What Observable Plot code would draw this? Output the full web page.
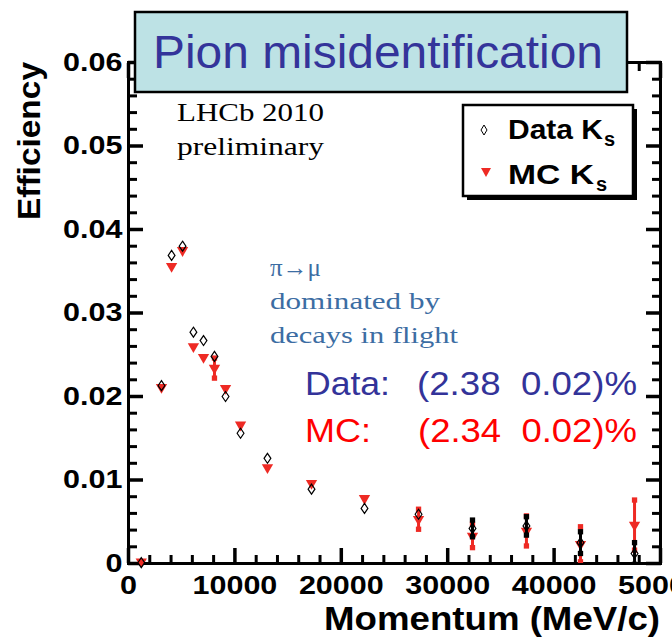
<!DOCTYPE html>
<html><head><meta charset="utf-8">
<script src="https://cdn.jsdelivr.net/npm/d3@7"></script>
<script src="https://cdn.jsdelivr.net/npm/@observablehq/plot@0.6"></script>
<style>
body{margin:0;background:#fff;}
#wrap{position:relative;width:672px;height:642px;overflow:hidden;}
#wrap > svg{position:absolute;left:0;top:0;}
</style></head><body><div id="wrap"></div>
<script>
// ---- data ----
const momentum = [1200, 3100, 4050, 5080, 6100, 7050, 8080, 9120, 10530, 13060, 17200, 22180, 27260, 32330, 37400, 42480, 47560];
const dataEff  = [0.0001, 0.0213, 0.0369, 0.0380, 0.0277, 0.0267, 0.0248, 0.0200, 0.0156, 0.0126, 0.0089, 0.0066, 0.0059, 0.0042, 0.0045, 0.0025, 0.0012];
const dataErr  = [0, 0.0002, 0.0003, 0.0003, 0.0003, 0.0003, 0.0003, 0.0003, 0.0003, 0.0003, 0.0003, 0.0004, 0.0005, 0.0010, 0.0011, 0.0013, 0.0013];
const mcEff    = [0.0002, 0.0211, 0.0356, 0.0375, 0.0260, 0.0247, 0.0234, 0.0210, 0.0166, 0.0115, 0.0096, 0.0078, 0.0053, 0.0033, 0.0039, 0.0023, 0.0046];
const mcErr    = [0.0002, 0.0003, 0.0004, 0.0004, 0.0004, 0.0005, 0.0012, 0.0006, 0.0005, 0.0005, 0.0004, 0.0007, 0.0012, 0.0014, 0.0018, 0.0021, 0.0030];

const yTicks = [0, 0.01, 0.02, 0.03, 0.04, 0.05, 0.06];
const yTickLabels = ["0", "0.01", "0.02", "0.03", "0.04", "0.05", "0.06"];
const xTicks = [0, 10000, 20000, 30000, 40000, 50000];
const xTickLabels = ["0", "10000", "20000", "30000", "40000", "50000"];

const titleText = "Pion misidentification";
const xLabel = "Momentum (MeV/c)";
const yLabel = "Efficiency";
const legendLabels = ["Data K", "MC K"];
const noteLHCb = ["LHCb 2010", "preliminary"];
const noteDecay = ["\u03c0\u2192\u03bc", "dominated by", "decays in flight"];
const resultLabels = ["Data:", "MC:"];
const resultValues = ["(2.38  0.02)%", "(2.34  0.02)%"];

// ---- build rows ----
const data = momentum.map((m, i) => ({m, e: dataEff[i], err: dataErr[i]})).filter(d => !isNaN(d.e));
const mc = momentum.map((m, i) => ({m, e: mcEff[i], err: mcErr[i]}));
const bigData = data.filter(d => d.err >= 0.0008);
const bigMc = mc.filter(d => d.err >= 0.0008);

const yMinor = d3.range(0, 0.0601, 0.002).filter(v => Math.abs(v * 100 - Math.round(v * 100)) > 1e-6);
const xMinor = d3.range(0, 50001, 2000).filter(v => v % 10000 !== 0);

const RED = "#ee2a24";
const tallDiamond = {
  draw(ctx, size) {
    const r = Math.sqrt(size / Math.PI);
    ctx.moveTo(0, -r * 1.25); ctx.lineTo(r * 0.85, 0); ctx.lineTo(0, r * 1.25); ctx.lineTo(-r * 0.85, 0); ctx.closePath();
  }
};
const fmtY = d => yTickLabels[yTicks.indexOf(d)];
const fmtX = d => xTickLabels[xTicks.indexOf(d)];
const blank = () => "";

const chart = Plot.plot({
  width: 672, height: 642,
  marginLeft: 128, marginRight: 12, marginTop: 62, marginBottom: 79,
  x: {domain: [0, 50000]},
  y: {domain: [0, 0.06]},
  style: {fontFamily: "'Liberation Sans', Arial, sans-serif", background: "transparent", overflow: "visible", color: "black"},
  marks: [
    // ticks (inward, ROOT style)
    Plot.axisY(yTicks, {anchor: "left", tickSize: -15, tickFormat: blank, strokeWidth: 3.5, label: null}),
    Plot.axisY(yMinor, {anchor: "left", tickSize: -9, tickFormat: blank, strokeWidth: 3, label: null}),
    Plot.axisY(yTicks, {anchor: "right", tickSize: -15, tickFormat: blank, strokeWidth: 3.5, label: null}),
    Plot.axisY(yMinor, {anchor: "right", tickSize: -9, tickFormat: blank, strokeWidth: 3, label: null}),
    Plot.axisX(xTicks, {anchor: "bottom", tickSize: -15, tickFormat: blank, strokeWidth: 3.5, label: null}),
    Plot.axisX(xMinor, {anchor: "bottom", tickSize: -8, tickFormat: blank, strokeWidth: 3, label: null}),
    Plot.axisX(xTicks, {anchor: "top", tickSize: -15, tickFormat: blank, strokeWidth: 3.5, label: null}),
    Plot.axisX(xMinor, {anchor: "top", tickSize: -8, tickFormat: blank, strokeWidth: 3, label: null}),
    // tick labels
    Plot.axisY(yTicks, {anchor: "left", tickSize: 0, tickPadding: 6, tickFormat: fmtY, fontSize: 25, fontWeight: "bold", label: null}),
    Plot.axisX(xTicks, {anchor: "bottom", tickSize: 0, tickPadding: 13, tickFormat: fmtX, fontSize: 25, fontWeight: "bold", label: null}),
    Plot.frame({stroke: "black", strokeWidth: 3}),
    // MC
    Plot.ruleX(bigMc, {x: "m", y1: d => d.e - d.err, y2: d => d.e + d.err, stroke: RED, strokeWidth: 3, clip: true}),
    Plot.dot(bigMc, {x: "m", y: d => d.e - d.err, symbol: "square", r: 3, fill: RED, clip: true}),
    Plot.dot(bigMc, {x: "m", y: d => d.e + d.err, symbol: "square", r: 3, fill: RED, clip: true}),
    Plot.dot(mc, {x: "m", y: "e", symbol: "triangle", r: 4.2, fill: RED, rotate: 180}),
    // Data
    Plot.ruleX(bigData, {x: "m", y1: d => d.e - d.err, y2: d => d.e + d.err, stroke: "black", strokeWidth: 3, clip: true}),
    Plot.dot(bigData, {x: "m", y: d => d.e - d.err, symbol: "square", r: 3, fill: "black", clip: true}),
    Plot.dot(bigData, {x: "m", y: d => d.e + d.err, symbol: "square", r: 3, fill: "black", clip: true}),
    Plot.dot(data, {x: "m", y: "e", symbol: tallDiamond, r: 4, stroke: "black", strokeWidth: 1.2, fill: "none"})
  ]
});
document.getElementById("wrap").appendChild(chart);
// widen the tick labels (the reference is horizontally stretched)
chart.querySelectorAll('g[aria-label="y-axis tick label"] text, g[aria-label="x-axis tick label"] text').forEach(t => {
  const w = t.getComputedTextLength();
  if (w > 0) { t.setAttribute("textLength", (w * 1.22).toFixed(1)); t.setAttribute("lengthAdjust", "spacingAndGlyphs"); }
});

// ---- overlay: titles, annotations, legend ----
const ov = d3.select("#wrap").append("svg").attr("width", 672).attr("height", 642)
  .style("font-family", "'Liberation Sans', Arial, sans-serif");
function txt(parent, s, x, y, opts = {}) {
  const t = parent.append("text").attr("x", x).attr("y", y).text(s)
    .attr("font-size", opts.size || 20).attr("fill", opts.fill || "black")
    .attr("font-weight", opts.weight || "normal")
    .attr("text-anchor", opts.anchor || "start")
    .attr("xml:space", "preserve").style("white-space", "pre");
  if (opts.family) t.attr("font-family", opts.family);
  if (opts.len) t.attr("textLength", opts.len).attr("lengthAdjust", "spacingAndGlyphs");
  if (opts.transform) t.attr("transform", opts.transform);
  return t;
}
// title box
ov.append("rect").attr("x", 135).attr("y", 12).attr("width", 492).attr("height", 80)
  .attr("fill", "#bde2e5").attr("stroke", "black").attr("stroke-width", 2.5);
txt(ov, titleText, 153, 68, {size: 46, fill: "#34349a", len: 450});
// axis titles
txt(ov, yLabel, 40, 62, {size: 32, weight: "bold", anchor: "end", len: 158, transform: "rotate(-90 40 62)"});
txt(ov, xLabel, 660, 630, {size: 34, weight: "bold", anchor: "end", len: 336});
// LHCb notes
const serif = "'Liberation Serif', 'Times New Roman', serif";
txt(ov, noteLHCb[0], 177, 121, {size: 26, family: serif, len: 147});
txt(ov, noteLHCb[1], 177, 155, {size: 26, family: serif, len: 147});
const blue = "#3c6da3";
txt(ov, noteDecay[0], 270, 276, {size: 25, family: serif, fill: blue});
txt(ov, noteDecay[1], 270, 309, {size: 24, family: serif, fill: blue, len: 170});
txt(ov, noteDecay[2], 270, 343, {size: 24, family: serif, fill: blue, len: 188});
// results
txt(ov, resultLabels[0], 305, 395, {size: 33, fill: "#333399", len: 85});
txt(ov, resultValues[0], 417, 395, {size: 33, fill: "#333399", len: 220});
txt(ov, resultLabels[1], 305, 442, {size: 33, fill: "#ff0000", len: 66});
txt(ov, resultValues[1], 418, 442, {size: 33, fill: "#ff0000", len: 219});
// legend
ov.append("rect").attr("x", 467).attr("y", 109).attr("width", 170).attr("height", 91).attr("fill", "black");
ov.append("rect").attr("x", 463).attr("y", 105).attr("width", 170).attr("height", 91)
  .attr("fill", "white").attr("stroke", "black").attr("stroke-width", 2.5);
ov.append("path").attr("d", "M484,125L487,130L484,135L481,130Z").attr("fill", "none").attr("stroke", "black").attr("stroke-width", 1);
ov.append("path").attr("d", "M481,168L491,168L486,177Z").attr("fill", RED);
txt(ov, legendLabels[0], 508, 139, {size: 28, weight: "bold", len: 95});
txt(ov, "s", 604, 146, {size: 20, weight: "bold"});
txt(ov, legendLabels[1], 508, 184, {size: 28, weight: "bold", len: 86});
txt(ov, "s", 596, 191, {size: 20, weight: "bold"});
</script></body></html>
